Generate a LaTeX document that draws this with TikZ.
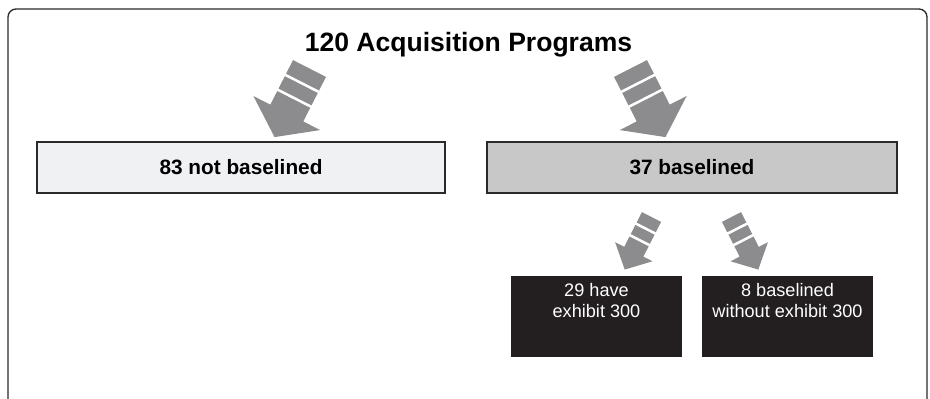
\documentclass[tikz,border=0pt]{standalone}
\usepackage{fontspec}
\setmainfont{Liberation Sans}
\usepackage{tikz}
\usetikzlibrary{calc}

\definecolor{framegray}{HTML}{2A2A2A}
\definecolor{arrowgray}{HTML}{8C8C8E}
\definecolor{lightbox}{HTML}{F0F1F3}
\definecolor{midbox}{HTML}{C8C8C8}
\definecolor{boxblack}{HTML}{231F20}

\tikzset{
  graybox/.style={draw=framegray, line width=0.9pt, inner sep=0pt,
    minimum height=38.25pt, font=\fontsize{15.6}{18}\selectfont\bfseries},
  blackbox/.style={fill=boxblack, text=white, align=center, inner sep=0pt,
    minimum width=128.25pt, text height=30.75pt, text depth=30pt,
    font=\fontsize{13.6}{15.75}\selectfont}
}

% #1 start, #2 angle, #3 half shaft, #4 shaft length, #5 half head, #6 head length
\newcommand{\segarrow}[6]{%
  \begin{scope}[shift={(#1)}, rotate=#2]
    \fill[arrowgray] (0,-#3) -- (#4,-#3) -- (#4,-#5) -- ({#4+#6},0)
      -- (#4,#5) -- (#4,#3) -- (0,#3) -- cycle;
    \draw[white, line width=1.9pt] ({#4/3},{-#3-1}) -- ({#4/3},{#3+1});
    \draw[white, line width=1.9pt] ({2*#4/3},{-#3-1}) -- ({2*#4/3},{#3+1});
  \end{scope}}

\begin{document}
\begin{tikzpicture}[x=0.75pt, y=-0.75pt]
  \useasboundingbox (0,0) rectangle (930,399);
  \clip (0,0) rectangle (930,399);
  \draw[framegray, line width=1pt, rounded corners=6pt] (8,9) rectangle (927,430);

  \node [font=\fontsize{19.9}{23}\selectfont\bfseries, anchor=base] (title) at (468.5,51.7) {120 Acquisition Programs};

  \node [graybox, fill=lightbox, minimum width=306pt] (notbase) at (241,167.5) {83 not baselined};
  \node [graybox, fill=midbox, minimum width=307.5pt] (base) at (692,167.5) {37 baselined};

  \node [blackbox, anchor=north] (have) at (596.5,276) {29 have\\exhibit 300};
  \node [blackbox, anchor=north] (without) at (787.5,276) {8 baselined\\without exhibit 300};

  \coordinate (la) at (309.5,68.5);
  \coordinate (ra) at (630.5,68.5);
  \coordinate (lb) at (651.5,217);
  \coordinate (rb) at (731.5,217);

  \segarrow{la}{243}{18.5}{50}{37.5}{27}
  \segarrow{ra}{297}{18.5}{50}{37.5}{27}
  \segarrow{lb}{243}{10.75}{39}{21}{20}
  \segarrow{rb}{297}{10.75}{39}{21}{20}
\end{tikzpicture}
\end{document}
